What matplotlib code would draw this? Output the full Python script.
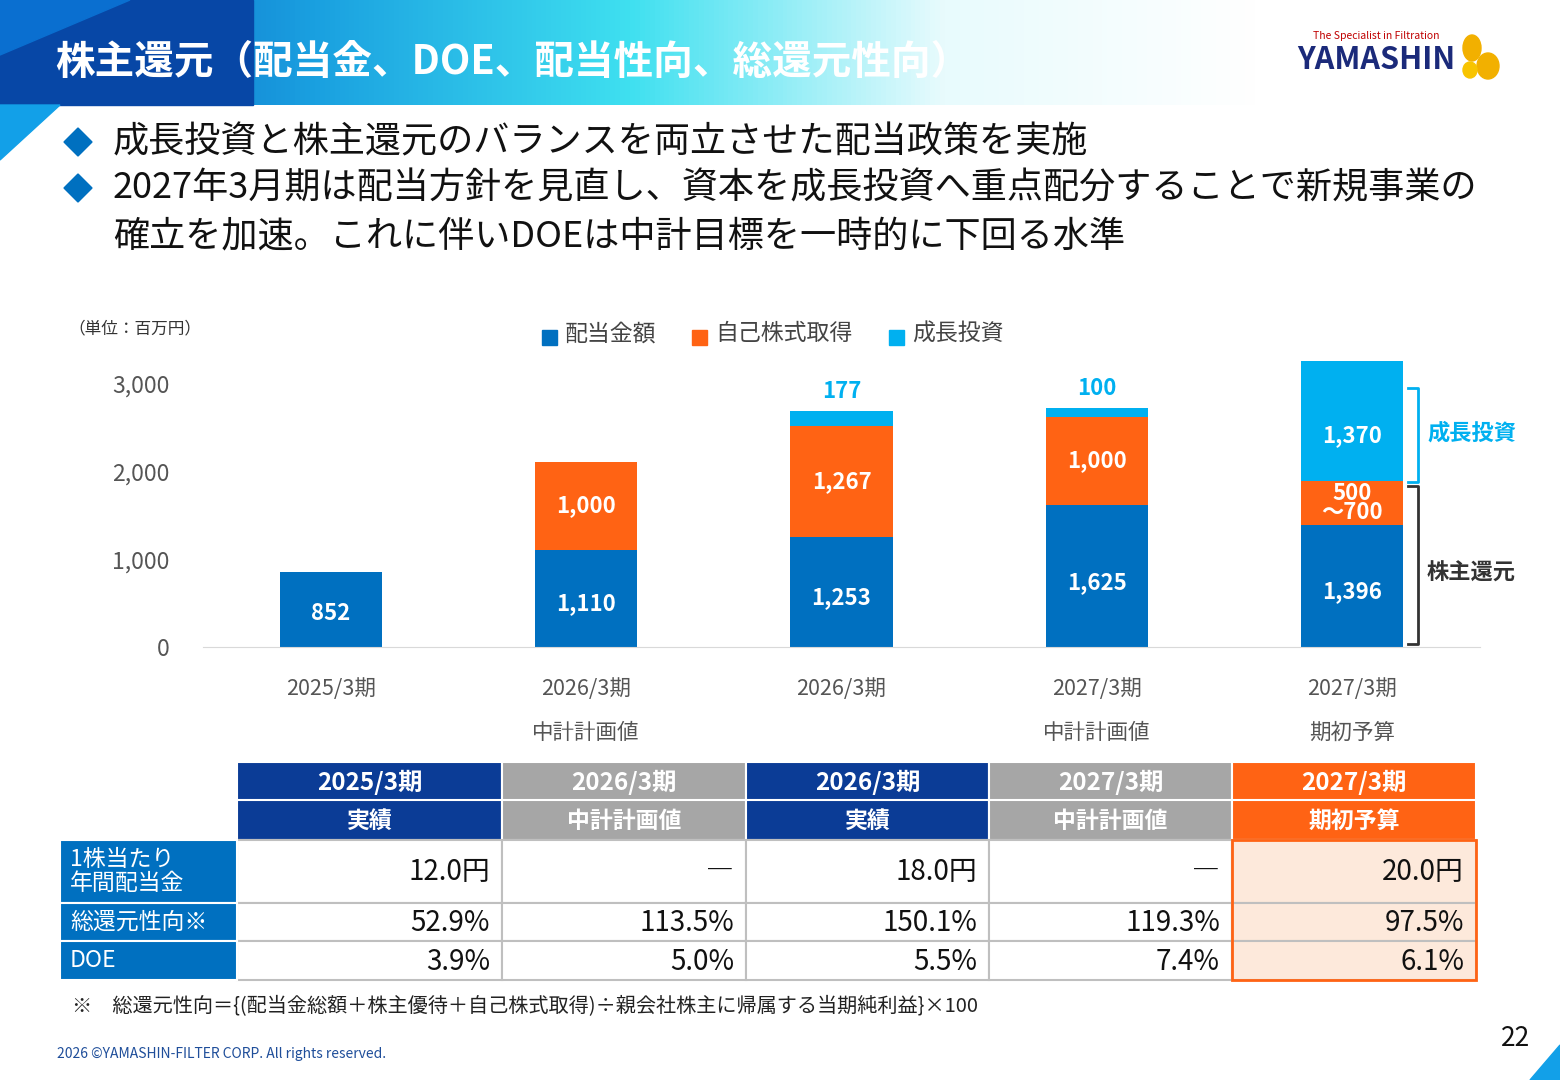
import matplotlib.pyplot as plt
import numpy as np
from matplotlib.patches import Rectangle, Polygon, Ellipse
from matplotlib.colors import LinearSegmentedColormap

plt.rcParams['font.family'] = ['Noto Sans CJK JP', 'DejaVu Sans']

periods = ['2025/3期', '2026/3期\n中計計画値', '2026/3期', '2027/3期\n中計計画値', '2027/3期\n期初予算']
dividend = [852, 1110, 1253, 1625, 1396]
buyback = [0, 1000, 1267, 1000, 500]
growth = [0, 0, 177, 100, 1370]
buyback_labels = ['', '1,000', '1,267', '1,000', '500\n～700']
growth_labels = ['', '', '177', '100', '1,370']

tbl_top = ['2025/3期', '2026/3期', '2026/3期', '2027/3期', '2027/3期']
tbl_sub = ['実績', '中計計画値', '実績', '中計計画値', '期初予算']
row_names = ['1株当たり\n年間配当金', '総還元性向※', 'DOE']
dps = ['12.0円', '―', '18.0円', '―', '20.0円']
payout = ['52.9%', '113.5%', '150.1%', '119.3%', '97.5%']
doe = ['3.9%', '5.0%', '5.5%', '7.4%', '6.1%']

BLUE = '#0070C0'
ORANGE = '#FF6314'
CYAN = '#00B0F0'
NAVY = '#0B3C96'
GRAY = '#A6A6A6'
PEACH = '#FDE9DB'

fig = plt.figure(figsize=(15.6, 10.8), dpi=100)
bg = fig.add_axes([0, 0, 1, 1])
bg.set_xlim(0, 1560)
bg.set_ylim(1080, 0)
bg.axis('off')

# header band with gradient
grad = np.linspace(0, 1, 256).reshape(1, -1)
cm = LinearSegmentedColormap.from_list('h', ['#0A5CC0', '#1AA0E0', '#3FE0F0', '#E8FBFD', '#FFFFFF'])
bg.imshow(grad, cmap=cm, extent=[0, 1260, 105, 0], aspect='auto', zorder=0)
bg.add_patch(Rectangle((0, 0), 253, 105, color='#0747A6', zorder=1))
bg.add_patch(Polygon([[0, 0], [130, 0], [0, 55]], color='#0A6FD0', zorder=2))
bg.add_patch(Polygon([[0, 105], [60, 105], [0, 160]], color='#12A0E8', zorder=1))
bg.text(55, 62, '株主還元（配当金、DOE、配当性向、総還元性向）', color='white', fontsize=28.5,
        fontweight='bold', va='center', zorder=3)
bg.add_patch(Polygon([[1530, 1080], [1560, 1045], [1560, 1080]], color='#12A0E8'))

# logo
bg.text(1376, 36, 'The Specialist in Filtration', color='#C00000', fontsize=7.5, ha='center', va='center')
bg.text(1376, 60, 'YAMASHIN', color='#1B2A7A', fontsize=22, fontweight='bold', ha='center', va='center')
bg.add_patch(Ellipse((1472, 48), 18, 26, color='#F2B000'))
bg.add_patch(Ellipse((1488, 66), 22, 26, color='#F2B000'))
bg.add_patch(Ellipse((1470, 70), 14, 16, color='#F8C400'))

# bullets
for y, t in [(142, '成長投資と株主還元のバランスを両立させた配当政策を実施'),
             (188, '2027年3月期は配当方針を見直し、資本を成長投資へ重点配分することで新規事業の')]:
    bg.add_patch(Polygon([[64, y], [78, y - 14], [92, y], [78, y + 14]], color=BLUE))
    bg.text(113, y, t, fontsize=26, va='center', color='#111111')
bg.text(113, 236, '確立を加速。これに伴いDOEは中計目標を一時的に下回る水準', fontsize=26, va='center', color='#111111')

bg.text(68, 329, '（単位：百万円）', fontsize=12, va='center', color='#333333')

# legend
for x, c, t in [(542, BLUE, '配当金額'), (692, ORANGE, '自己株式取得'), (889, CYAN, '成長投資')]:
    bg.add_patch(Rectangle((x, 330), 15, 15, color=c))
    bg.text(x + 23, 334, t, fontsize=16.5, va='center', color='#444444')

# bar chart
ax = fig.add_axes([203 / 1560, (1080 - 647) / 1080, 1277 / 1560, 263 / 1080])
ax.set_xlim(-0.5, 4.5)
ax.set_ylim(0, 3000)
x = np.arange(len(periods))
w = 0.4
ax.bar(x, dividend, w, color=BLUE, zorder=2)
ax.bar(x, buyback, w, bottom=dividend, color=ORANGE, zorder=2)
bot2 = np.array(dividend) + np.array(buyback)
ax.bar(x, growth, w, bottom=bot2, color=CYAN, zorder=2, clip_on=False)
for i in range(len(x)):
    ax.text(x[i], dividend[i] * 0.45, f'{dividend[i]:,}', color='white',
            fontsize=16, fontweight='bold', ha='center', va='center')
    if buyback_labels[i]:
        ax.text(x[i], dividend[i] + buyback[i] * 0.5, buyback_labels[i], color='white', fontsize=16,
                fontweight='bold', ha='center', va='center', linespacing=0.8)
    if growth_labels[i]:
        if growth[i] > 500:
            ax.text(x[i], bot2[i] + growth[i] * 0.38, growth_labels[i], color='white', fontsize=16,
                    fontweight='bold', ha='center', va='center', clip_on=False)
        else:
            ax.text(x[i], bot2[i] + growth[i] + 90, growth_labels[i], color=CYAN, fontsize=16,
                    fontweight='bold', ha='center', va='bottom', clip_on=False)
for s in ['top', 'right', 'left']:
    ax.spines[s].set_visible(False)
ax.spines['bottom'].set_color('#D9D9D9')
ax.set_yticks([0, 1000, 2000, 3000])
ax.set_yticklabels(['0', '1,000', '2,000', '3,000'], fontsize=16.5, color='#555555')
ax.tick_params(axis='y', length=0, pad=24)
ax.set_xticks(x)
ax.set_xticklabels(periods, fontsize=15.5, color='#555555', linespacing=2.3, va='top')
ax.tick_params(axis='x', length=0, pad=22)
ax.patch.set_alpha(0)

# brackets
bg.plot([1408, 1418, 1418, 1408], [388, 388, 482, 482], color=CYAN, lw=2)
bg.plot([1408, 1418, 1418, 1408], [486, 486, 644, 644], color='#333333', lw=2)
bg.text(1427, 433, '成長投資', color=CYAN, fontsize=16, fontweight='bold', va='center')
bg.text(1427, 573, '株主還元', color='#333333', fontsize=16, fontweight='bold', va='center')

# table
cx = [237, 502, 746, 989, 1232, 1476]
ry = [762, 800, 840, 903, 941, 980]
for j in range(5):
    hc = ORANGE if j == 4 else (NAVY if j % 2 == 0 else GRAY)
    bg.add_patch(Rectangle((cx[j], ry[0]), cx[j + 1] - cx[j], ry[2] - ry[0], color=hc, ec='white', lw=1.5))
    bg.plot([cx[j] + 2, cx[j + 1] - 2], [ry[1], ry[1]], color='white', lw=1.5)
    xm = (cx[j] + cx[j + 1]) / 2
    bg.text(xm, 782, tbl_top[j], color='white', fontsize=17.5, fontweight='bold', ha='center', va='center')
    bg.text(xm, 821, tbl_sub[j], color='white', fontsize=16.5, fontweight='bold', ha='center', va='center')
    fc = PEACH if j == 4 else 'white'
    for r, vals in enumerate([dps, payout, doe]):
        bg.add_patch(Rectangle((cx[j], ry[r + 2]), cx[j + 1] - cx[j], ry[r + 3] - ry[r + 2],
                               fc=fc, ec='#BFBFBF', lw=1.5))
        bg.text(cx[j + 1] - 12, (ry[r + 2] + ry[r + 3]) / 2 + 1, vals[j], fontsize=20,
                ha='right', va='center', color='#111111')
bg.add_patch(Rectangle((cx[4], ry[2]), cx[5] - cx[4], ry[5] - ry[2], fill=False, ec=ORANGE, lw=2))
for r in range(3):
    bg.add_patch(Rectangle((60, ry[r + 2]), 177, ry[r + 3] - ry[r + 2], fc=BLUE, ec='white', lw=1.5))
    bg.text(70, (ry[r + 2] + ry[r + 3]) / 2, row_names[r], color='white', fontsize=16.5, va='center',
            linespacing=1.05)

bg.text(72, 1007, '※　総還元性向＝{(配当金総額＋株主優待＋自己株式取得)÷親会社株主に帰属する当期純利益}×100',
        fontsize=14.5, va='center', color='#222222')
bg.text(57, 1054, '2026 ©YAMASHIN-FILTER CORP. All rights reserved.', fontsize=10, va='center', color='#1F4E9A')
bg.text(1530, 1038, '22', fontsize=19, ha='right', va='center', color='#111111')

fig.savefig('out.png', dpi=100)
